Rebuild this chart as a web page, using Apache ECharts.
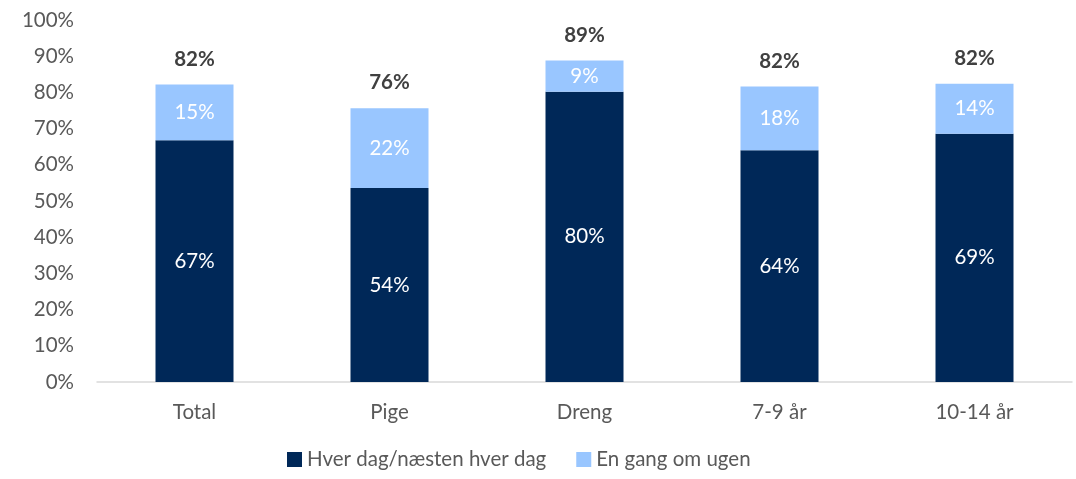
<!DOCTYPE html>
<html>
<head>
<meta charset="utf-8">
<script src="https://cdn.jsdelivr.net/npm/echarts@6/dist/echarts.min.js"></script>
<style>html,body{margin:0;padding:0;background:#fff;}#c{width:1076px;height:479px;}</style>
</head>
<body>
<div id="c"></div>
<script>
const categories = ["Total", "Pige", "Dreng", "7-9 år", "10-14 år"];
const daily = [66.8, 53.6, 80.2, 64.0, 68.6];
const weekly = [15.4, 22.0, 8.6, 17.6, 13.8];
const yTicks = [0, 10, 20, 30, 40, 50, 60, 70, 80, 90, 100];
const seriesNames = ["Hver dag/næsten hver dag", "En gang om ugen"];

const FONT = "Lato";
const FS = 20.5;
const chart = echarts.init(document.getElementById('c'));
chart.setOption({
  animation: false,
  textStyle: { fontFamily: FONT },
  grid: { left: 97, right: 4, top: 20, bottom: 97 },
  legend: {
    bottom: 4, left: 282,
    itemWidth: 15, itemHeight: 15, itemGap: 30,
    icon: 'rect',
    textStyle: { fontFamily: FONT, fontSize: FS, color: '#595959' },
    data: seriesNames
  },
  xAxis: {
    type: 'category', data: categories,
    axisLine: { lineStyle: { color: '#D9D9D9', width: 1.5 } },
    axisTick: { show: false },
    axisLabel: { fontFamily: FONT, fontSize: FS, color: '#595959', margin: 20 }
  },
  yAxis: {
    type: 'value', min: yTicks[0], max: yTicks[yTicks.length - 1], interval: 10,
    splitLine: { show: false },
    axisLine: { show: false }, axisTick: { show: false },
    axisLabel: { fontFamily: FONT, fontSize: FS, color: '#595959', margin: 23, formatter: v => v + '%' }
  },
  series: [
    {
      name: seriesNames[0], type: 'bar', stack: 's', barWidth: 78, data: daily,
      itemStyle: { color: '#002858' },
      label: { show: true, position: 'inside', color: '#fff', fontSize: FS, fontFamily: FONT,
        formatter: p => Math.round(p.value) + '%' }
    },
    {
      name: seriesNames[1], type: 'bar', stack: 's', barWidth: 78, data: weekly,
      itemStyle: { color: '#99C6FF' },
      label: { show: true, position: 'inside', color: '#fff', fontSize: FS, fontFamily: FONT,
        formatter: p => Math.round(p.value) + '%' }
    },
    {
      name: 'total', type: 'bar', stack: 's', barWidth: 78,
      data: daily.map(() => 0),
      itemStyle: { color: 'transparent' },
      label: { show: true, position: 'top', distance: 15, color: '#404040', fontSize: FS, fontWeight: 'bold', fontFamily: FONT,
        formatter: p => Math.round(daily[p.dataIndex] + weekly[p.dataIndex]) + '%' }
    }
  ]
});
</script>
</body>
</html>
